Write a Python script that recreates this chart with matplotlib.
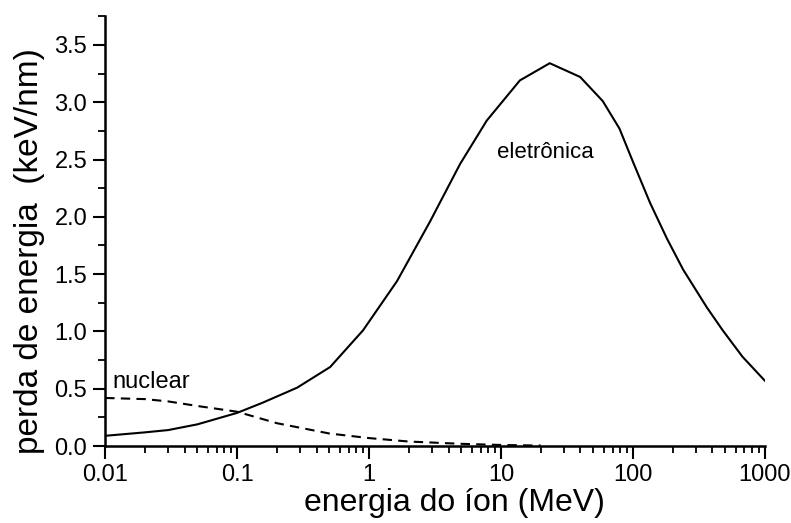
import matplotlib
matplotlib.use('Agg')
import matplotlib.pyplot as plt
from matplotlib.ticker import LogLocator, MultipleLocator, NullFormatter

plt.rcParams['font.family'] = ['Liberation Sans', 'DejaVu Sans']

# electronic stopping (solid)
e_energy = [0.01, 0.02, 0.03, 0.05, 0.1, 0.157, 0.285, 0.507, 0.9, 1.63, 2.9,
            4.89, 7.8, 13.9, 23.4, 39.8, 59, 79, 100, 135, 181, 240, 363, 479,
            676, 1000]
e_loss = [0.09, 0.12, 0.14, 0.19, 0.29, 0.38, 0.51, 0.69, 1.01, 1.44, 1.96,
          2.46, 2.84, 3.19, 3.34, 3.22, 3.01, 2.77, 2.48, 2.12, 1.81, 1.54, 1.21, 1.01,
          0.78, 0.57]

# nuclear stopping (dashed)
n_energy = [0.01, 0.02, 0.03, 0.05, 0.1, 0.2, 0.5, 1, 2, 5, 10, 20]
n_loss = [0.42, 0.41, 0.39, 0.35, 0.30, 0.20, 0.11, 0.07, 0.04, 0.02, 0.01, 0.005]

xticks = [0.01, 0.1, 1, 10, 100, 1000]
xtick_labels = ['0.01', '0.1', '1', '10', '100', '1000']

fig = plt.figure(figsize=(7.91, 5.23), dpi=100)
ax = fig.add_axes([0.133, 0.147, 0.834, 0.822])

ax.plot(e_energy, e_loss, color='black', lw=1.5)
ax.plot(n_energy, n_loss, color='black', lw=1.5, linestyle=(0, (4.5, 3)))

ax.set_xscale('log')
ax.set_xlim(0.01, 1000)
ax.set_ylim(0, 3.75)
ax.set_xticks(xticks)
ax.set_xticklabels(xtick_labels)
ax.xaxis.set_minor_locator(LogLocator(base=10, subs=range(2, 10)))
ax.xaxis.set_minor_formatter(NullFormatter())
ax.set_yticks([0.0, 0.5, 1.0, 1.5, 2.0, 2.5, 3.0, 3.5])
ax.yaxis.set_minor_locator(MultipleLocator(0.25))

for s in ['top', 'right']:
    ax.spines[s].set_visible(False)
for s in ['left', 'bottom']:
    ax.spines[s].set_linewidth(1.8)

ax.tick_params(which='major', direction='out', length=9, width=1.5, labelsize=17, pad=4)
ax.tick_params(which='minor', direction='out', length=5, width=1.3)

ax.set_xlabel('energia do íon (MeV)', fontsize=23, va='center')
ax.set_ylabel('perda de energia  (keV/nm)', fontsize=24, va='center')
ax.xaxis.set_label_coords(0.53, -0.133)
ax.yaxis.set_label_coords(-0.115, 0.453)

ax.text(0.0113, 0.51, 'nuclear', fontsize=17, ha='left', va='baseline')
ax.text(21.7, 2.56, 'eletrônica', fontsize=16, ha='center', va='center')

fig.savefig('out.png', dpi=100)
